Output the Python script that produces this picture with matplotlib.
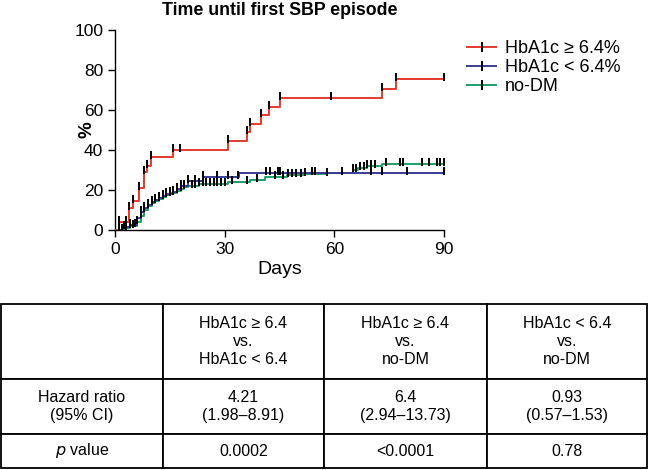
import numpy as np
import matplotlib
matplotlib.use('Agg')
import matplotlib.pyplot as plt
from matplotlib.path import Path
from matplotlib.lines import Line2D

plt.rcParams['font.family'] = ['Liberation Sans', 'DejaVu Sans']

# step curves: time of each step and % after it
red_t = [0, 1, 3.9, 4.9, 6.7, 7.8, 8.8, 9.8, 15.8, 31, 36, 36.9, 40, 42, 45, 73, 77]
red_v = [0, 4, 11, 14.5, 21, 29, 32, 36.3, 40.2, 44.5, 48.8, 53, 57.4, 61.5, 65.8, 70.6, 75.6]
red_c = [1, 2.9, 3.9, 4.9, 6.7, 7.8, 8.8, 9.8, 15.8, 17.9, 31, 36, 36.9, 40, 42, 45, 59, 73, 77, 90]

blue_t = [0, 1.8, 4, 6, 7, 8, 9, 10, 11, 12, 13, 14, 16, 17, 18, 20, 24, 34]
blue_v = [0, 1.5, 2.5, 6, 9, 11, 12.5, 14, 15, 16, 17, 18, 19, 20.5, 22, 24.5, 26.3, 28.4]
blue_c = [1, 2.5, 4, 5.5, 7, 8, 9, 10, 11, 12, 13, 14, 15, 16, 17, 18, 19, 20, 22, 24,
          28, 31, 33.6, 41.2, 42.3, 44.5, 45, 53.8, 54.6, 62, 70, 73, 80, 90]

green_t = [0, 2.5, 4, 6, 7, 8, 9, 10, 11, 12, 13, 14, 15, 17, 18, 19, 20, 23, 31, 37, 41,
           47, 52, 58, 65, 66.5, 69, 73]
green_v = [0, 1, 2, 4, 7, 10, 12, 13.5, 14.5, 15.5, 16.5, 17.5, 18.5, 19.5, 20.5, 21.5, 22,
           23, 24, 25, 26.3, 27.3, 28, 28.4, 29.8, 31, 32.2, 33]
green_c = [2, 3, 4, 5, 6, 7, 8, 9, 10, 11, 12, 13, 14, 15, 16, 17, 18, 19, 21, 22, 23, 24,
           25, 26, 27, 28, 29, 30, 32, 36, 38.8, 43.7, 45.9, 47.3, 48.4, 49.5, 51, 52, 57.9,
           65, 66, 67, 68, 69, 70, 71, 74, 78, 78.7, 84, 86, 88, 89, 90]

labels = ['HbA1c \u2265 6.4%', 'HbA1c < 6.4%', 'no-DM']
colors = ['#e3392b', '#3b3a98', '#1c9e6a']

col_labels = ['', 'HbA1c \u2265 6.4\nvs.\nHbA1c < 6.4', 'HbA1c \u2265 6.4\nvs.\nno-DM',
              'HbA1c < 6.4\nvs.\nno-DM']
row_hr = ['Hazard ratio\n(95% CI)', '4.21\n(1.98\u20138.91)', '6.4\n(2.94\u201313.73)',
          '0.93\n(0.57\u20131.53)']
row_p = ['$p$ value', '0.0002', '<0.0001', '0.78']

tick_mark = Path([(0, -0.25), (0, 1)], [Path.MOVETO, Path.LINETO])

fig = plt.figure(figsize=(6.5, 4.7), dpi=100)
ax = fig.add_axes([115 / 650, 1 - 230 / 470, 329 / 650, 200 / 470])

curves = [(red_t, red_v, red_c), (blue_t, blue_v, blue_c), (green_t, green_v, green_c)]
# draw green first so red/blue sit on top, like the original
for i in [2, 1, 0]:
    t, v, c = curves[i]
    t = np.array(t + [90])
    v = np.array(v + [v[-1]])
    ax.step(t, v, where='post', color=colors[i], lw=1.4, zorder=2 + (2 - i))
    c = np.array(c)
    cy = v[np.searchsorted(t, c, side='right') - 1]
    ax.plot(c, cy, ls='none', marker=tick_mark, ms=9, mew=1.4, color='k', zorder=6)

ax.set_xlim(0, 90)
ax.set_ylim(0, 100)
ax.set_xticks([0, 30, 60, 90])
ax.set_yticks([0, 20, 40, 60, 80, 100])
for s in ['top', 'right']:
    ax.spines[s].set_visible(False)
for s in ['left', 'bottom']:
    ax.spines[s].set_linewidth(1.0)
ax.tick_params(labelsize=12.5, length=5, width=1.0)
ax.set_xlabel('Days', fontsize=14, labelpad=3)
ax.set_ylabel('%', fontsize=13.5, fontweight='bold')
ax.yaxis.set_label_coords(-0.058, 0.5)
ax.set_title('Time until first SBP episode', fontsize=12.8, fontweight='bold', pad=11)

handles = [Line2D([], [], color=colors[i], lw=1.4, marker='|', ms=7, mew=1.4, mec='k')
           for i in range(3)]
fig.legend(handles, labels, loc='upper left', bbox_to_anchor=(460 / 650, 1 - 33 / 470),
           frameon=False, fontsize=13, handlelength=1.6, handletextpad=0.5,
           labelspacing=0.1, borderaxespad=0)

# table
tax = fig.add_axes([1 / 650, 1 - 468 / 470, 646 / 650, 164 / 470])
tax.axis('off')
tbl = tax.table(cellText=[col_labels, row_hr, row_p], cellLoc='center',
                colWidths=[162, 161, 163, 160], bbox=[0, 0, 1, 1])
tbl.auto_set_font_size(False)
row_h = [75, 55, 34]
for (r, cidx), cell in tbl.get_celld().items():
    cell.set_height(row_h[r])
    cell.set_linewidth(1.3)
    cell.get_text().set_fontsize(11.5)
    cell.get_text().set_linespacing(1.25)

fig.savefig('out.png', dpi=100)
